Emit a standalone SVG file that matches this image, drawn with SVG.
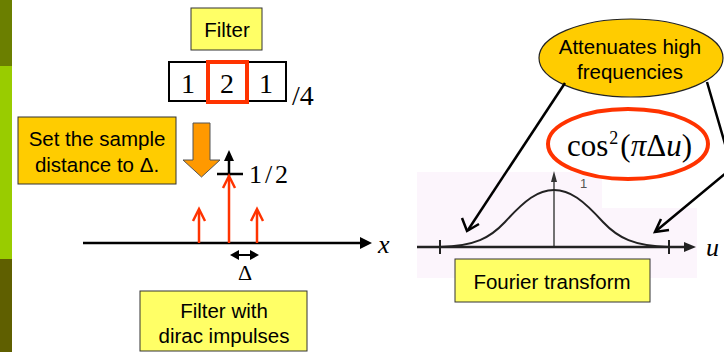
<svg xmlns="http://www.w3.org/2000/svg" width="724" height="352" viewBox="0 0 724 352">
<defs>
<style>
.sans{font-family:"Liberation Sans",Arial,sans-serif;font-size:20.5px;fill:#000;text-anchor:middle}
.ser{font-family:"Liberation Serif","Times New Roman",serif;fill:#000}
.ybox{fill:#ffff66;stroke:#333;stroke-width:1}
.obox{fill:#ffcc00;stroke:#333;stroke-width:1}
.imp{stroke:#ff3300;stroke-width:2.5;fill:none}
.conn{stroke:#000;stroke-width:2.5;fill:none}
</style>
</defs>
<rect width="724" height="352" fill="#fff"/>
<g id="sidebar">
<rect x="0" y="0" width="12" height="66" fill="#6b7f00"/>
<rect x="0" y="66" width="12" height="193" fill="#99cc00"/>
<rect x="0" y="259" width="12" height="93" fill="#5f5f00"/>
</g>
<g id="filter-label">
<rect class="ybox" x="191" y="8" width="71" height="42"/>
<text class="sans" x="227" y="37">Filter</text>
</g>
<g id="kernel">
<rect x="169" y="62" width="117" height="39" fill="#fff" stroke="#000" stroke-width="2"/>
<rect x="208" y="62" width="39" height="40" fill="#fff" stroke="#ff3300" stroke-width="4"/>
<text class="ser" x="188" y="93" font-size="28" text-anchor="middle">1</text>
<text class="ser" x="227" y="93" font-size="28" text-anchor="middle">2</text>
<text class="ser" x="266" y="93" font-size="28" text-anchor="middle">1</text>
<text class="ser" x="292" y="105" font-size="28">/4</text>
</g>
<g id="sample-note">
<rect class="obox" x="18" y="117" width="158" height="67"/>
<text class="sans" x="97" y="146">Set the sample</text>
<text class="sans" x="97" y="172">distance to Δ.</text>
</g>
<g id="down-arrow">
<path d="M193,123 L210,123 L210,160 L220,160 L201.5,177 L183,160 L193,160 Z" fill="#ff9900" stroke="#555" stroke-width="1"/>
</g>
<g id="half-marker">
<line x1="229" y1="176" x2="229" y2="158" stroke="#000" stroke-width="2.5"/>
<path d="M224,161 L229,150 L234,161 Z" fill="#000"/>
<line x1="217" y1="174" x2="243" y2="174" stroke="#000" stroke-width="2.5"/>
<text class="ser" x="249" y="183" font-size="26" textLength="39" lengthAdjust="spacing">1/2</text>
</g>
<g id="x-axis">
<line x1="83" y1="243" x2="364" y2="243" stroke="#000" stroke-width="2.5"/>
<path d="M360,237 L372,243 L360,249 Z" fill="#000"/>
<text class="ser" x="378" y="253" font-size="26" font-style="italic">x</text>
</g>
<g id="impulses">
<line class="imp" x1="199" y1="243" x2="199" y2="210"/>
<polyline class="imp" points="193,221 199,209 205,221"/>
<line class="imp" x1="229" y1="243" x2="229" y2="177"/>
<polyline class="imp" points="223,188 229,176 235,188"/>
<line class="imp" x1="257" y1="243" x2="257" y2="210"/>
<polyline class="imp" points="251,221 257,209 263,221"/>
</g>
<g id="delta">
<line x1="236" y1="255" x2="253" y2="255" stroke="#000" stroke-width="2"/>
<path d="M230,255 L239,250 L239,260 Z" fill="#000"/>
<path d="M259,255 L250,250 L250,260 Z" fill="#000"/>
<text class="ser" x="245" y="280" font-size="22" text-anchor="middle">Δ</text>
</g>
<g id="dirac-label">
<rect class="ybox" x="140" y="291" width="167" height="60"/>
<text class="sans" x="224" y="318">Filter with</text>
<text class="sans" x="224" y="343">dirac impulses</text>
</g>
<g id="ft-plot">
<rect x="417" y="172" width="280" height="106" fill="#fcf5fc"/>
<rect x="602" y="172" width="95" height="36" fill="#fff"/>
<line x1="554" y1="247" x2="554" y2="180" stroke="#444" stroke-width="1.5"/>
<path d="M551,182 L554,171 L557,182 Z" fill="#333"/>
<text x="580" y="188" font-family="Liberation Sans, sans-serif" font-size="13" fill="#555">1</text>
<path d="M440,247 C475,246 490,238 505,222 C525,200 538,190 554,190 C570,190 583,200 603,222 C618,238 634,246 669,247" fill="none" stroke="#222" stroke-width="2"/>
<line x1="417" y1="247" x2="688" y2="247" stroke="#222" stroke-width="2.5"/>
<path d="M684,242 L696,247 L684,252 Z" fill="#222"/>
<line x1="440" y1="240" x2="440" y2="254" stroke="#222" stroke-width="2"/>
<line x1="669" y1="240" x2="669" y2="254" stroke="#222" stroke-width="2"/>
<text class="ser" x="706" y="256" font-size="26" font-style="italic">u</text>
</g>
<g id="ft-label">
<rect class="ybox" x="455" y="259" width="195" height="43"/>
<text class="sans" x="552" y="289">Fourier transform</text>
</g>
<g id="cos-formula">
<ellipse cx="628" cy="144" rx="80" ry="35" fill="#fff" stroke="#ff3300" stroke-width="4"/>
<text class="ser" x="567" y="156" font-size="31">cos<tspan font-size="18" dy="-12" dx="1">2</tspan><tspan dy="12" dx="2">(</tspan><tspan font-style="italic">π</tspan>Δ<tspan font-style="italic">u</tspan>)</text>
</g>
<g id="attenuates">
<ellipse cx="631" cy="58" rx="92" ry="39" fill="#ffcc00" stroke="#222" stroke-width="1.2"/>
<text class="sans" x="630" y="54">Attenuates high</text>
<text class="sans" x="630" y="79">frequencies</text>
</g>
<g id="connectors">
<line class="conn" x1="565" y1="83" x2="468" y2="230"/>
<polyline class="conn" points="462,218 467,231 479,224"/>
<polyline class="conn" points="707,82 732,168 656,231"/>
<polyline class="conn" points="661,219 655,232 669,230"/>
</g>
</svg>
